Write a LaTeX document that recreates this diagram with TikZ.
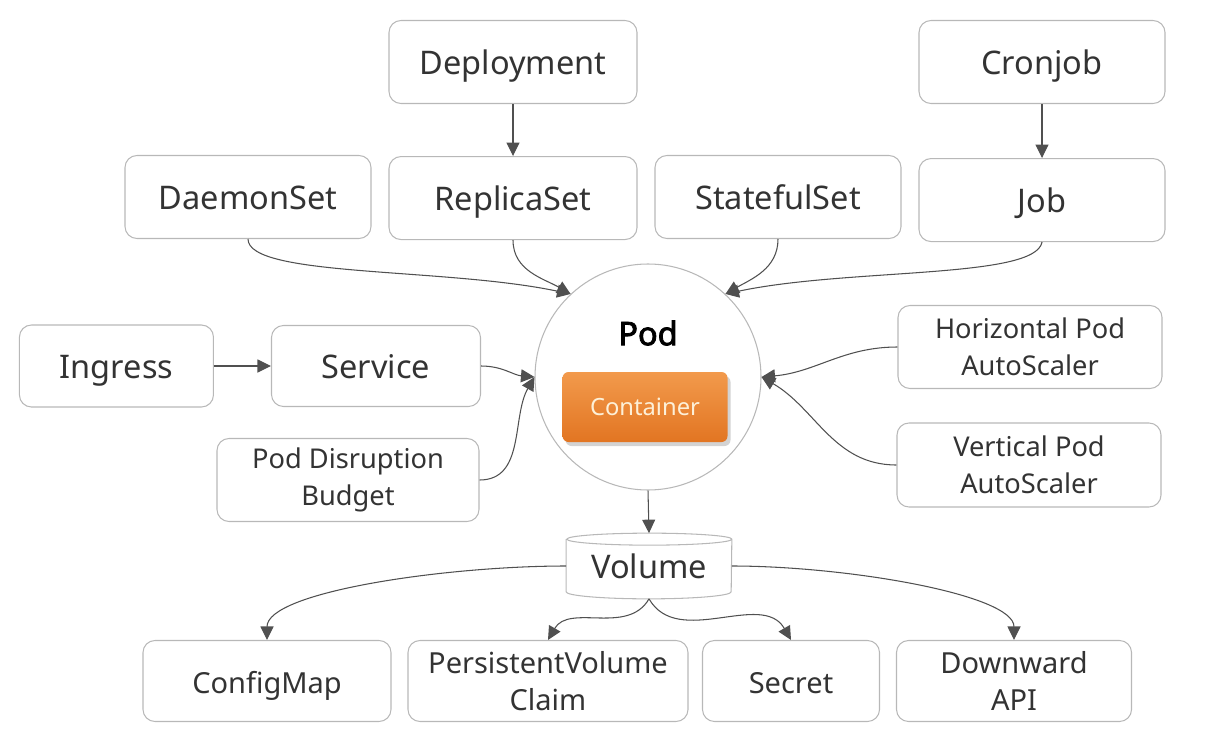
\documentclass[tikz,border=0pt]{standalone}
\usepackage{fontspec}
\setmainfont{Noto Sans}[AutoFakeBold=2.5]
\usetikzlibrary{arrows.meta, positioning, shadows, calc}
\definecolor{boxgray}{HTML}{B8B8B8}
\definecolor{linegray}{HTML}{505050}
\definecolor{textgray}{HTML}{333333}
\definecolor{orangetop}{HTML}{F29A4C}
\definecolor{orangebot}{HTML}{E27522}
\definecolor{cream}{HTML}{FDF0D8}
\tikzset{
    block/.style={rectangle, draw=boxgray, line width=0.6pt, rounded corners=2.4mm, align=center, text=textgray, minimum height=16.6mm, font=\fontsize{18.5}{22}\selectfont},
    oneline/.style={text height=18.5pt, text depth=4.5pt},
    smallblock/.style={block, font=\fontsize{15.5}{21}\selectfont},
    leafblock/.style={block, minimum height=16.2mm, font=\fontsize{16.5}{21}\selectfont},
    container/.style={rectangle, rounded corners=1.2mm, top color=orangetop, bottom color=orangebot, text=cream, minimum width=33mm, minimum height=14mm, font=\fontsize{13.5}{16}\selectfont, drop shadow={opacity=0.35, shadow xshift=0.6mm, shadow yshift=-0.8mm}},
    arrow/.style={draw=linegray, line width=0.6pt, ->, >={Triangle[length=2.7mm, width=2.6mm]}}
}

\begin{document}
\begin{tikzpicture}[x=0.2mm, y=-0.2mm]
    \useasboundingbox (0,0) rectangle (1220,756);
    % controllers
    \node[block, oneline, minimum width=49.6mm] (deploy) at (513,62) {Deployment};
    \node[block, oneline, minimum width=49.6mm, below=10.4mm of deploy] (rs) {ReplicaSet};
    \node[block, oneline, minimum width=49.2mm] (cron) at (1042,62) {Cronjob};
    \node[block, oneline, minimum width=49.2mm, below=10.8mm of cron] (job) {Job};
    \node[block, oneline, minimum width=49.2mm] (ds) at (248,197) {DaemonSet};
    \node[block, oneline, minimum width=49.2mm] (sts) at (778,197) {StatefulSet};

    % pod
    \node[circle, draw=boxgray, line width=0.6pt, minimum size=45.2mm, inner sep=0pt] (pod) at (648,377) {};
    \node[font=\bfseries\fontsize{18.5}{22}\selectfont, text=black] (podname) at (648,333) {Pod};
    \node[container] (ctr) at (645,407) {Container};

    % left side
    \node[block, oneline, minimum width=41.8mm, minimum height=16.2mm] (svc) at (376,366) {Service};
    \node[block, oneline, minimum width=38.8mm, minimum height=16.4mm, left=11.4mm of svc] (ing) {Ingress};
    \node[smallblock, minimum width=52.4mm] (pdb) at (348,480) {Pod Disruption\\Budget};

    % right side
    \node[smallblock, minimum width=52.8mm] (hpa) at (1030,347) {Horizontal Pod\\AutoScaler};
    \node[smallblock, minimum width=52.8mm, minimum height=16.8mm] (vpa) at (1029,465) {Vertical Pod\\AutoScaler};

    % volume
    \node[oneline, font=\fontsize{18.5}{22}\selectfont, text=textgray, minimum width=33mm, minimum height=13mm] (vol) at (649,566) {Volume};
    \draw[draw=boxgray, line width=0.6pt] ([yshift=-1.2mm]vol.north west) -- ([yshift=1.4mm]vol.south west)
        arc[start angle=180, end angle=360, x radius=16.5mm, y radius=1.4mm]
        -- ([yshift=-1.2mm]vol.north east)
        arc[start angle=0, end angle=360, x radius=16.5mm, y radius=1.2mm];

    % volume types
    \node[leafblock, oneline, minimum width=49.6mm] (cm) at (267,681) {ConfigMap};
    \node[leafblock, minimum width=56mm] (pvc) at (548,681) {PersistentVolume\\Claim};
    \node[leafblock, oneline, minimum width=35.4mm] (sec) at (791,681) {Secret};
    \node[leafblock, minimum width=47mm] (dw) at (1014,681) {Downward\\API};

    % connectors
    \draw[arrow] (deploy) -- (rs);
    \draw[arrow] (cron) -- (job);
    \draw[arrow] (ing) -- (svc);
    \draw[arrow] (ds.south) to[out=-90, in=168, out looseness=0.3] (pod.133);
    \draw[arrow] (rs.south) to[out=-90, in=150] (pod.133);
    \draw[arrow] (sts.south) to[out=-90, in=30] (pod.47);
    \draw[arrow] (job.south) to[out=-100, in=12, out looseness=0.3] (pod.47);
    \draw[arrow] (svc.east) to[out=0, in=175] (pod.west);
    \draw[arrow] (pdb.east) to[out=0, in=-120] (pod.west);
    \draw[arrow] (hpa.west) to[out=180, in=5] (pod.east);
    \draw[arrow] (vpa.west) to[out=180, in=-30] (pod.east);
    \draw[arrow] (pod.south) -- (vol.north);
    \draw[arrow] (vol.west) to[out=180, in=90, in looseness=0.4] (cm.north);
    \draw[arrow] (vol.south) to[out=-120, in=60] (pvc.north);
    \draw[arrow] (vol.south) to[out=-60, in=120] (sec.north);
    \draw[arrow] (vol.east) to[out=0, in=90, in looseness=0.4] (dw.north);
\end{tikzpicture}
\end{document}
